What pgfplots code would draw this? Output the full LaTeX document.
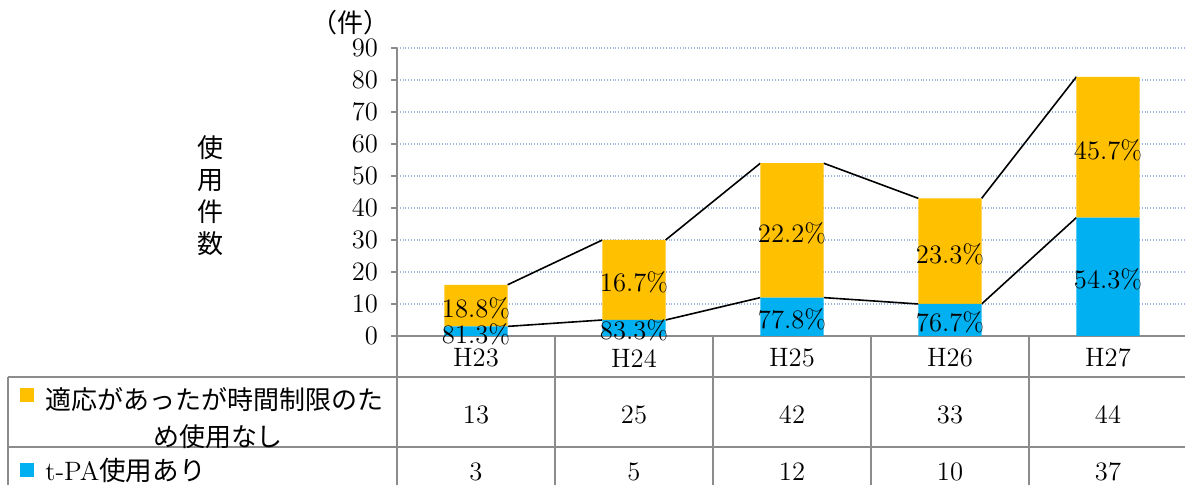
\documentclass[border=0pt]{standalone}
\usepackage{fontspec}
\usepackage{pgfplots}
\pgfplotsset{compat=1.18}
\newfontfamily\cjk{Noto Sans CJK JP}
\definecolor{torange}{HTML}{FFC000}
\definecolor{tblue}{HTML}{00B0F0}
\definecolor{axisgray}{HTML}{8C8C8C}
\definecolor{gridblue}{HTML}{9DB5DC}
\begin{document}
\begin{tikzpicture}[font=\fontsize{13.3}{16}\selectfont]
\path[use as bounding box] (0,0) rectangle (592.5pt,242.5pt);
\begin{axis}[
  at={(198.5pt,74.5pt)}, anchor=south west,
  scale only axis, width=395pt, height=144pt,
  xmin=-0.5, xmax=4.5, ymin=0, ymax=90,
  ytick={0,10,...,90}, xtick=\empty,
  axis x line*=bottom, axis y line*=left,
  axis line style={-, draw=axisgray, line width=1pt},
  y tick style={draw=axisgray, line width=1pt},
  tick align=outside, major tick length=3pt,
  ymajorgrids, grid style={densely dotted, draw=gridblue, line width=0.7pt},
  /pgf/number format/assume math mode=true,
  yticklabel style={anchor=east, xshift=-3pt},
  ybar stacked, bar width=0.4,
  clip=false,
]
\addplot[fill=tblue, draw=none] coordinates {(0,3)(1,5)(2,12)(3,10)(4,37)};
\addplot[fill=torange, draw=none] coordinates {(0,13)(1,25)(2,42)(3,33)(4,44)};
\addplot[stack plots=false, sharp plot, black, line width=0.8pt, unbounded coords=jump, mark=none]
  coordinates {(0.2,3)(0.8,5)(1,nan)(1.2,5)(1.8,12)(2,nan)(2.2,12)(2.8,10)(3,nan)(3.2,10)(3.8,37)};
\addplot[stack plots=false, sharp plot, black, line width=0.8pt, unbounded coords=jump, mark=none]
  coordinates {(0.2,16)(0.8,30)(1,nan)(1.2,30)(1.8,54)(2,nan)(2.2,54)(2.8,43)(3,nan)(3.2,43)(3.8,81)};
\coordinate (b0) at (axis cs:0,1.5);
\coordinate (o0) at (axis cs:0,9.5);
\coordinate (b1) at (axis cs:1,2.5);
\coordinate (o1) at (axis cs:1,17.5);
\coordinate (b2) at (axis cs:2,6);
\coordinate (o2) at (axis cs:2,33);
\coordinate (b3) at (axis cs:3,5);
\coordinate (o3) at (axis cs:3,26.5);
\coordinate (b4) at (axis cs:4,18.5);
\coordinate (o4) at (axis cs:4,59);
\end{axis}
\begin{scope}[every node/.style={yshift=-1.3pt}]
\node at (b0) {81.3\%};
\node at (o0) {18.8\%};
\node at (b1) {83.3\%};
\node at (o1) {16.7\%};
\node at (b2) {77.8\%};
\node at (o2) {22.2\%};
\node at (b3) {76.7\%};
\node at (o3) {23.3\%};
\node at (b4) {54.3\%};
\node at (o4) {45.7\%};
\end{scope}
% y label and unit
\node[align=center, font=\cjk\fontsize{13}{16}\selectfont] at (105pt,144.5pt) {使\\用\\件\\数};
\node[font=\cjk\fontsize{13}{16}\selectfont] at (175pt,231pt) {（件）};
% data table
\begin{scope}[draw=axisgray, line width=1pt]
\draw (4pt,54pt) -- (593pt,54pt);
\draw (4pt,19pt) -- (593pt,19pt);
\draw (4pt,54pt) -- (4pt,0pt);
\draw (198.5pt,74.5pt) -- (198.5pt,0pt);
\draw (277.5pt,74.5pt) -- (277.5pt,0pt);
\draw (356.5pt,74.5pt) -- (356.5pt,0pt);
\draw (435.5pt,74.5pt) -- (435.5pt,0pt);
\draw (514.5pt,74.5pt) -- (514.5pt,0pt);
\end{scope}
\node at (238pt,63.5pt) {H23};
\node at (317pt,63.5pt) {H24};
\node at (396pt,63.5pt) {H25};
\node at (475pt,63.5pt) {H26};
\node at (554pt,63.5pt) {H27};
\node at (238pt,35pt) {13};
\node at (317pt,35pt) {25};
\node at (396pt,35pt) {42};
\node at (475pt,35pt) {33};
\node at (554pt,35pt) {44};
\node at (238pt,6.5pt) {3};
\node at (317pt,6.5pt) {5};
\node at (396pt,6.5pt) {12};
\node at (475pt,6.5pt) {10};
\node at (554pt,6.5pt) {37};
\fill[torange] (10pt,41.5pt) rectangle (17pt,48.5pt);
\node[anchor=west, inner sep=0pt, font=\cjk\fontsize{13}{16}\selectfont] at (22.5pt,42.5pt) {適応があったが時間制限のた};
\node[inner sep=0pt, font=\cjk\fontsize{13}{16}\selectfont] at (109pt,24pt) {め使用なし};
\fill[tblue] (10pt,4pt) rectangle (17pt,11pt);
\node[anchor=west, inner sep=0pt] at (22.5pt,7.5pt) {t-PA{\cjk 使用あり}};
\end{tikzpicture}
\end{document}
